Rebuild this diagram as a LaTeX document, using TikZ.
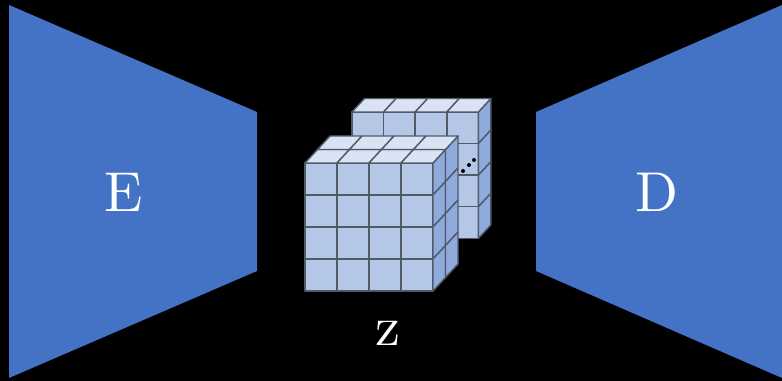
\documentclass[tikz,border=0pt]{standalone}
\usepackage{amsmath}
\definecolor{aeblue}{RGB}{68,114,196}
\definecolor{cellfront}{RGB}{180,199,231}
\definecolor{celltop}{RGB}{218,227,243}
\definecolor{cellside}{RGB}{143,170,220}
\definecolor{cellline}{RGB}{82,90,104}
\font\labfont="[lmroman10-regular.otf]" at 32pt

\begin{document}
\begin{tikzpicture}[x=0.02cm,y=-0.02cm,
      wing/.style={fill=aeblue,draw=none},
      lab/.style={text=white,font=\labfont,inner sep=0pt},
      cell/.style={draw=cellline,line width=0.8pt,line join=round}]
    \fill[black] (0,0) rectangle (782,381);
    \useasboundingbox (0,0) rectangle (782,381);
    \fill[wing] (9,5) -- (257,112) -- (257,271) -- (9,378) -- cycle;
    \fill[wing] (782,5) -- (536,112) -- (536,271) -- (782,378) -- cycle;
    \node[lab] (enc) at (123.5,192) {E};
    \node[lab] (dec) at (657,192) {D};
    \node[lab] (lat) at (388,333) {z};
    % back block first, then the front one: x/y/cell size/layers
    \foreach \cx/\cy/\cw/\nd in {352/112/31.6/1,305/163/32/2} {
      \foreach \i in {0,...,3} \foreach \j in {0,...,3} {
        \draw[cell,fill=cellfront] ({\cx+\i*\cw},{\cy+\j*\cw}) rectangle ++(\cw,\cw);
      }
      \foreach \d in {1,...,\nd} {
        \foreach \i in {0,...,3} {
          % top row
          \draw[cell,fill=celltop] ({\cx+\i*\cw+(\d-1)*12.5},{\cy-(\d-1)*13.5})
            -- ++(\cw,0) -- ++(12.5,-13.5) -- ++(-\cw,0) -- cycle;
          % side column
          \draw[cell,fill=cellside] ({\cx+4*\cw+(\d-1)*12.5},{\cy+\i*\cw-(\d-1)*13.5})
            -- ++(12.5,-13.5) -- ++(0,\cw) -- ++(-12.5,13.5) -- cycle;
        }
      }
    }
    \foreach \px/\py in {463/171,469/165,474/160} {
      \fill[black] (\px,\py) circle (2);
    }
  \end{tikzpicture}
\end{document}
